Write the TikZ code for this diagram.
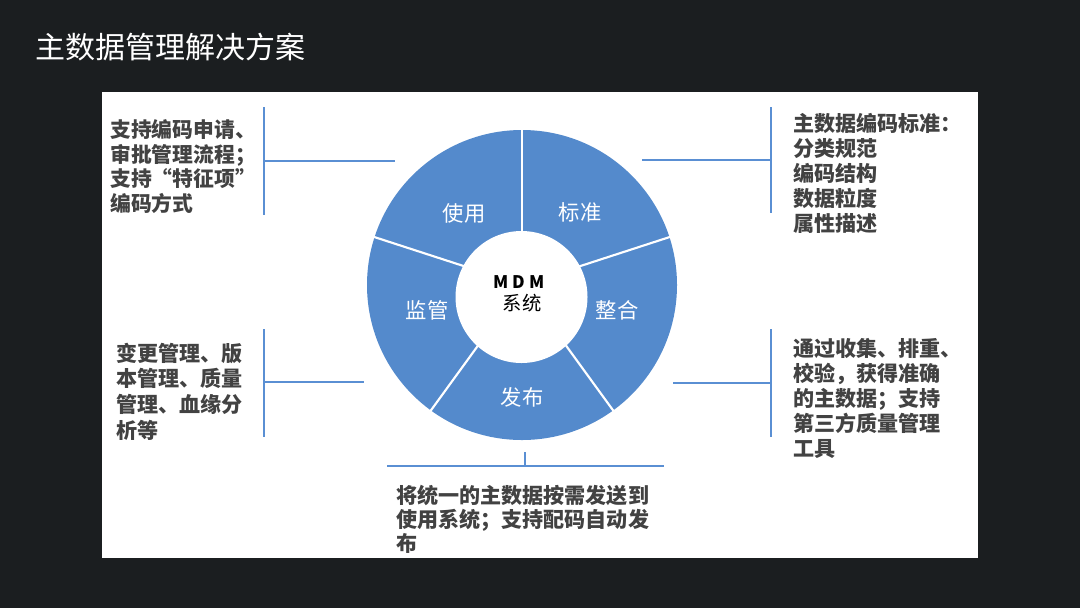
\documentclass[tikz,border=0pt]{standalone}
\usepackage{fontspec}
\setmainfont{Noto Sans CJK SC}
\definecolor{bgdark}{HTML}{1B1E20}
\definecolor{segblue}{HTML}{548ACC}
\definecolor{linkblue}{HTML}{5A8FD3}
\definecolor{txtgray}{HTML}{424242}
\tikzset{
  sep/.style={white, line width=1.6pt},
  link/.style={linkblue, line width=2.2pt},
  seglabel/.style={text=white, inner sep=0pt, font=\fontsize{16pt}{18pt}\selectfont},
  note/.style={text=txtgray, inner sep=0pt, align=left, anchor=west},
  titletext/.style={text=white, inner sep=0pt, anchor=west, font=\fontsize{22.5pt}{26pt}\selectfont},
}
\begin{document}
\begin{tikzpicture}[x=0.75pt,y=-0.75pt]
\useasboundingbox (0,0) rectangle (1080,608);
\fill[bgdark] (0,0) rectangle (1080,608);
\fill[white] (102,92) rectangle (978,558);
\node[titletext] (title) at (35,47) {主数据管理解决方案};

% donut
\coordinate (c) at (522,285);
\fill[segblue] (c) circle[radius=116.25pt];
\foreach \a in {90,18,-54,-126,162} \draw[sep] (c) -- ++(\a:117pt);
\node[circle, fill=white, inner sep=0pt, minimum size=99pt] (hub) at (521.5,297) {};
\node[inner sep=0pt, font=\bfseries\addfontfeature{LetterSpace=22}\fontsize{13pt}{15pt}\selectfont] (mdm) at (519,282) {MDM};
\node[inner sep=0pt, font=\fontsize{14.5pt}{16pt}\selectfont] (sys) at (522,303) {系统};

\node[seglabel] (use) at (464,213) {使用};
\node[seglabel] (std) at (580,212) {标准};
\node[seglabel] (mon) at (427,310) {监管};
\node[seglabel] (int) at (617,310) {整合};
\node[seglabel] (pub) at (522,397) {发布};

% brackets
\coordinate (lta) at (264,107); \coordinate (ltb) at (264,215);
\coordinate (ltm) at (264,161); \coordinate (lte) at (395,161);
\draw[link] (lta) -- (ltb); \draw[link] (ltm) -- (lte);

\coordinate (rta) at (771,107); \coordinate (rtb) at (771,213);
\coordinate (rtm) at (771,160); \coordinate (rte) at (642,160);
\draw[link] (rta) -- (rtb); \draw[link] (rtm) -- (rte);

\coordinate (lba) at (264,329); \coordinate (lbb) at (264,437);
\coordinate (lbm) at (264,382); \coordinate (lbe) at (364,382);
\draw[link] (lba) -- (lbb); \draw[link] (lbm) -- (lbe);

\coordinate (rba) at (771,329); \coordinate (rbb) at (771,437);
\coordinate (rbm) at (771,383); \coordinate (rbe) at (673,383);
\draw[link] (rba) -- (rbb); \draw[link] (rbm) -- (rbe);

\coordinate (bba) at (387,466); \coordinate (bbb) at (664,466);
\coordinate (bbm) at (525,466); \coordinate (bbe) at (525,452);
\draw[link] (bba) -- (bbb); \draw[link] (bbm) -- (bbe);

% notes
\node[note, font=\bfseries\fontsize{15.6pt}{18.3pt}\selectfont] (nlt) at (110,166.5)
  {支持编码申请、\\审批管理流程；\\支持“特征项”\\编码方式};
\node[note, font=\bfseries\fontsize{15.8pt}{18.75pt}\selectfont] (nrt) at (793,173)
  {主数据编码标准：\\分类规范\\编码结构\\数据粒度\\属性描述};
\node[note, font=\bfseries\fontsize{15.8pt}{19.3pt}\selectfont] (nlb) at (116,391.5)
  {变更管理、版\\本管理、质量\\管理、血缘分\\析等};
\node[note, font=\bfseries\fontsize{15.8pt}{18.75pt}\selectfont] (nrb) at (793,398)
  {通过收集、排重、\\校验，获得准确\\的主数据；支持\\第三方质量管理\\工具};
\node[note, font=\bfseries\fontsize{15.8pt}{18pt}\selectfont] (nb) at (396,519)
  {将统一的主数据按需发送到\\使用系统；支持配码自动发\\布};
\end{tikzpicture}
\end{document}
